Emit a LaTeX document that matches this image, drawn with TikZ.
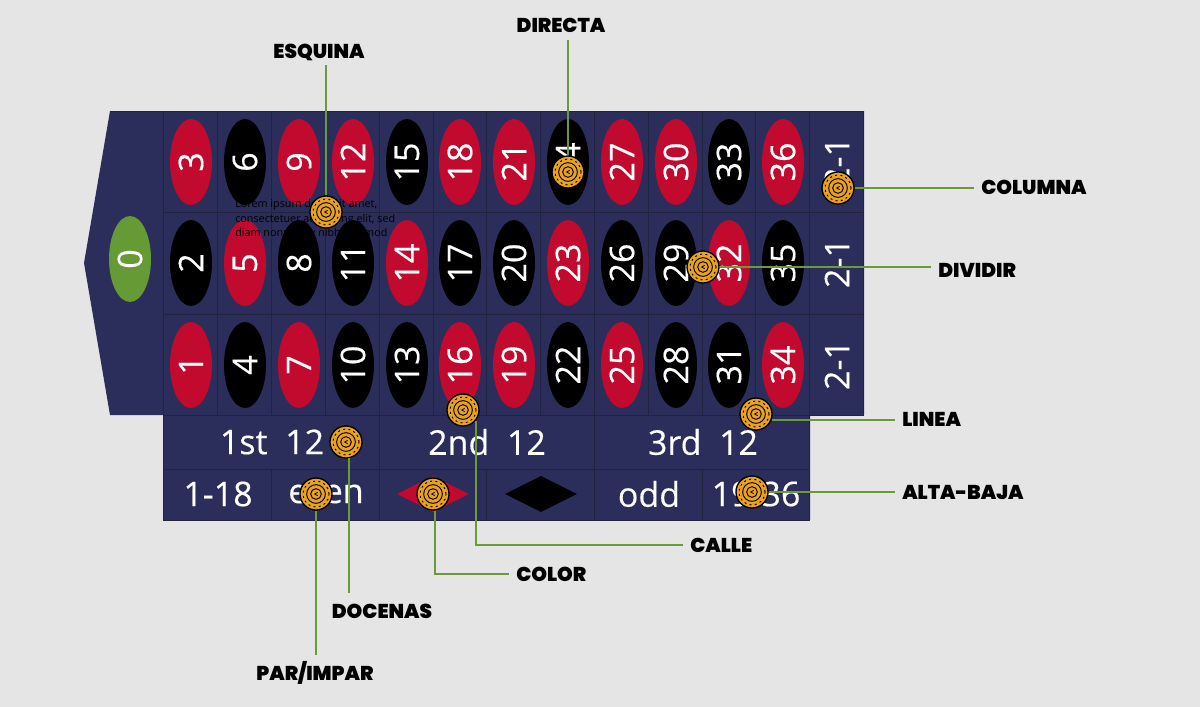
\documentclass[tikz,border=0pt]{standalone}
\usepackage{fontspec}
\setmainfont{Open Sans}
\newfontfamily\numfont[FakeBold=0.35]{Open Sans}
\newfontfamily\lblfont[BoldFont=* Black]{Poppins}
\usetikzlibrary{shapes.geometric}
\definecolor{boardblue}{HTML}{2B2D5A}
\definecolor{gridblue}{HTML}{21233F}
\definecolor{pagegrey}{HTML}{E5E5E5}
\definecolor{numred}{HTML}{C20A2F}
\definecolor{zerogreen}{HTML}{659A34}
\definecolor{leadgreen}{HTML}{6A9A3C}
\definecolor{chiporange}{HTML}{E9A11E}
\tikzset{
  numoval/.style={ellipse,inner sep=0pt,minimum width=64.5pt,minimum height=31.5pt,rotate=90,text=white,font=\numfont\fontsize{25.5}{26}\selectfont},
  rednum/.style={numoval,fill=numred},
  blacknum/.style={numoval,fill=black},
  zeronum/.style={numoval,fill=zerogreen},
  sidetext/.style={inner sep=0pt,rotate=90,text=white,font=\numfont\fontsize{25.5}{26}\selectfont},
  bettext/.style={inner sep=0pt,text=white,font=\numfont\fontsize{25.5}{26}\selectfont},
  betmark/.style={diamond,inner sep=0pt,minimum width=54pt,minimum height=27pt},
  chip/.style={circle,draw=black,line width=1pt,fill=chiporange,inner sep=0pt,minimum size=24pt,
    path picture={
      \draw[black,line width=0.7pt,dash pattern=on 1.5pt off 2.5pt] (path picture bounding box.center) circle (9.8pt);
      \draw[black,line width=0.7pt] (path picture bounding box.center) circle (7pt);
      \draw[black,line width=0.7pt] (path picture bounding box.center) circle (4pt);
      \draw[black,line width=0.6pt] (path picture bounding box.center) ++(1.2pt,1.2pt) -- ++(-2.2pt,-1.2pt) -- ++(2.2pt,-1.2pt);
    }},
  lead/.style={draw=leadgreen,line width=1.5pt},
  tag/.style={inner sep=0pt,font=\lblfont\bfseries\fontsize{15}{15}\selectfont,text=black},
}
\begin{document}
\begin{tikzpicture}[x=0.75pt,y=0.75pt,yscale=-1,xscale=1]
%Page
\fill [pagegrey] (0,0) rectangle (1200,707);
\useasboundingbox (0,0) rectangle (1200,707);

%Shape: Board
\fill [boardblue] (110,111) -- (864,111) -- (864,415) -- (810,415) -- (810,520) -- (164,520) -- (164,415) -- (110,415) -- (84,263) -- cycle;

%Grid Lines
\begin{scope}[xshift=-0.2pt]
\draw [gridblue,line width=0.6pt] (110,111) -- (864,111) -- (864,415) -- (810,415) -- (810,520) -- (164,520) -- (164,111);
\draw [gridblue,line width=0.6pt] (164,212) -- (864,212) (164,314) -- (864,314) (164,415) -- (810,415) (164,469) -- (810,469);
\draw [gridblue,line width=0.6pt] (218,111) -- (218,415) (272,111) -- (272,415) (326,111) -- (326,415) (380,111) -- (380,520) (434,111) -- (434,415) (487,111) -- (487,415) (541,111) -- (541,415) (595,111) -- (595,520) (649,111) -- (649,415) (703,111) -- (703,415) (756,111) -- (756,415) (810,111) -- (810,415);
\draw [gridblue,line width=0.6pt] (272,469) -- (272,520) (487,469) -- (487,520) (703,469) -- (703,520);
\end{scope}

% Zero
\node [zeronum] (n0) at (130,259) {0};

% Top Row
\node [rednum] (n3) at (191,162) {3};
\node [blacknum] (n6) at (245,162) {6};
\node [rednum] (n9) at (299,162) {9};
\node [rednum] (n12) at (353,162) {12};
\node [blacknum] (n15) at (407,162) {15};
\node [rednum] (n18) at (460,162) {18};
\node [rednum] (n21) at (514,162) {21};
\node [blacknum] (n24) at (568,162) {24};
\node [rednum] (n27) at (622,162) {27};
\node [rednum] (n30) at (676,162) {30};
\node [blacknum] (n33) at (729,162) {33};
\node [rednum] (n36) at (783,162) {36};
\node [sidetext] (c3) at (837,162) {2-1};

% Middle Row
\node [blacknum] (n2) at (191,263) {2};
\node [rednum] (n5) at (245,263) {5};
\node [blacknum] (n8) at (299,263) {8};
\node [blacknum] (n11) at (353,263) {11};
\node [rednum] (n14) at (407,263) {14};
\node [blacknum] (n17) at (460,263) {17};
\node [blacknum] (n20) at (514,263) {20};
\node [rednum] (n23) at (568,263) {23};
\node [blacknum] (n26) at (622,263) {26};
\node [blacknum] (n29) at (676,263) {29};
\node [rednum] (n32) at (729,263) {32};
\node [blacknum] (n35) at (783,263) {35};
\node [sidetext] (c2) at (837,263) {2-1};

% Bottom Row
\node [rednum] (n1) at (191,365) {1};
\node [blacknum] (n4) at (245,365) {4};
\node [rednum] (n7) at (299,365) {7};
\node [blacknum] (n10) at (353,365) {10};
\node [blacknum] (n13) at (407,365) {13};
\node [rednum] (n16) at (460,365) {16};
\node [rednum] (n19) at (514,365) {19};
\node [blacknum] (n22) at (568,365) {22};
\node [rednum] (n25) at (622,365) {25};
\node [blacknum] (n28) at (676,365) {28};
\node [blacknum] (n31) at (729,365) {31};
\node [rednum] (n34) at (783,365) {34};
\node [sidetext] (c1) at (837,365) {2-1};

% Outside Bets
\node [bettext] (first) at (272,442) {1st\ \ 12};
\node [bettext] (second) at (487,442) {2nd\ \ 12};
\node [bettext] (third) at (703,442) {3rd\ \ 12};
\node [bettext] (low) at (218,494) {1-18};
\node [bettext] (even) at (326,494) {even};
\node [betmark,fill=numred] (red) at (433,494) {};
\node [betmark,fill=black] (blk) at (541,494) {};
\node [bettext] (odd) at (649,494) {odd};
\node [bettext] (high) at (756,494) {19-36};

% Text Node
\node [inner sep=0pt,anchor=north west,align=left,text=black,font=\fontsize{8.1}{10.9}\selectfont] (lorem) at (235,199) {Lorem ipsum dolor sit amet,\\consectetuer adipiscing elit, sed\\diam nonummy nibh euismod};

% Chips
\node [chip] (chipesq) at (326,212) {};
\node [chip] (chipdir) at (568,172) {};
\node [chip] (chipcol) at (838,188) {};
\node [chip] (chipdiv) at (703,267) {};
\node [chip] (chiplin) at (756,414) {};
\node [chip] (chipcal) at (463,410) {};
\node [chip] (chipdoc) at (346,442) {};
\node [chip] (chipcolor) at (433,494) {};
\node [chip] (chippar) at (316,494) {};
\node [chip] (chipalt) at (752,492) {};

% Labels
\node [tag] (esquina) at (319,52) {ESQUINA};
\node [tag] (directa) at (561,25) {DIRECTA};
\node [tag,anchor=west] (columna) at (981,187) {COLUMNA};
\node [tag,anchor=west] (dividir) at (938,270) {DIVIDIR};
\node [tag,anchor=west] (linea) at (902,419) {LINEA};
\node [tag,anchor=west] (alta) at (902,492) {ALTA-BAJA};
\node [tag,anchor=west] (calle) at (690,545) {CALLE};
\node [tag,anchor=west] (color) at (516,574) {COLOR};
\node [tag] (docenas) at (382,611) {DOCENAS};
\node [tag] (par) at (315,673) {PAR/IMPAR};

% Connectors
\draw [lead,shorten >=3pt] (chipesq.north) -- (chipesq.north |- esquina.south);
\draw [lead,shorten >=6pt] (chipdir.north) -- (chipdir.north |- directa.south);
\draw [lead,shorten >=5pt] (chipcol.east) -- (chipcol.east -| columna.west);
\draw [lead,shorten >=5pt] (chipdiv.east) -- (chipdiv.east -| dividir.west);
\draw [lead,shorten >=5pt] (chiplin.-20) -- (chiplin.-20 -| linea.west);
\draw [lead,shorten >=5pt] (chipalt.east) -- (chipalt.east -| alta.west);
\draw [lead,shorten >=5pt] (chipcal.-41) |- (calle.west);
\draw [lead,shorten >=5pt] (chipcolor.-83) |- (color.west);
\draw [lead,shorten >=8pt] (chipdoc.-80) -- (chipdoc.-80 |- docenas.north);
\draw [lead,shorten >=5pt] (chippar.south) -- (chippar.south |- par.north);
\end{tikzpicture}
\end{document}
